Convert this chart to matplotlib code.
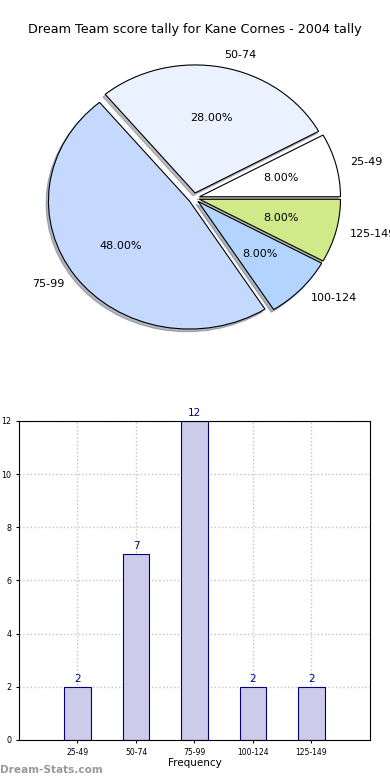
import matplotlib
matplotlib.use("Agg")
import matplotlib.pyplot as plt

categories = ["25-49", "50-74", "75-99", "100-124", "125-149"]
counts = [2, 7, 12, 2, 2]
pie_colors = ["#ffffff", "#eaf1ff", "#c5d9ff", "#b3d4ff", "#d0ea8a"]
title = "Dream Team score tally for Kane Cornes - 2004 tally"

fig = plt.figure(figsize=(3.9, 7.8), dpi=100)

# Pie
ax1 = fig.add_axes([0.0, 0.5577, 1.0, 0.3846])
wedges, texts, autotexts = ax1.pie(
    counts, labels=categories, colors=pie_colors, autopct="%1.2f%%",
    explode=[0.04] * len(counts), shadow={"ox": -0.012, "oy": -0.015, "shade": 0.5},
    startangle=0,
    wedgeprops=dict(edgecolor="black", linewidth=0.8),
    textprops=dict(fontsize=8))
ax1.set_aspect("auto")
ax1.set_xlim(-1.376, 1.390)
ax1.set_ylim(-1.148, 1.195)
fig.text(0.5, 1 - 30 / 780, title, ha="center", va="center", fontsize=9.2)

# Bars
ax2 = fig.add_axes([0.0487, 0.0513, 0.9, 0.409])
x = list(range(len(categories)))
ax2.bar(x, counts, width=0.45, color="#ccccea", edgecolor="#000080",
        linewidth=0.8, zorder=2)
for xi, c in zip(x, counts):
    ax2.text(xi, c + 0.1, str(c), ha="center", va="bottom",
             fontsize=7.5, color="#000080")
ax2.set_xlim(-1, 5)
ax2.set_ylim(0, 12)
ax2.set_xticks(x)
ax2.set_xticklabels(categories, fontsize=5.5)
ax2.set_yticks(range(0, 13, 2))
ax2.tick_params(axis="y", labelsize=5.8, length=2)
ax2.tick_params(axis="x", length=2)
ax2.grid(True, linestyle=":", color="#c4c4c4", linewidth=1, zorder=0)
ax2.set_axisbelow(True)
ax2.set_xlabel("Frequency", fontsize=7.5, labelpad=1)
ax2.set_ylabel("Scores in this range", fontsize=7.5, labelpad=2)

fig.text(0.0, 1 - 770 / 780, "Dream-Stats.com", ha="left", va="center",
         fontsize=7.6, color="#999999", fontweight="bold")

fig.savefig("out.png", dpi=100)
